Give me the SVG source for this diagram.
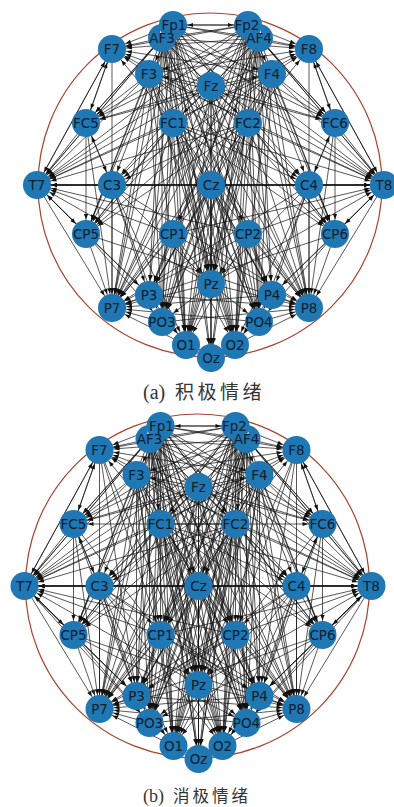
<svg xmlns="http://www.w3.org/2000/svg" width="394" height="807" viewBox="0 0 394 807">
<style>
.bg{fill:#ffffff}
.ring{fill:none;stroke:#a8432f;stroke-width:1.2}
.edges path{fill:none;stroke:#111;stroke-width:0.7;marker-end:url(#ah)}
.node circle{fill:#1f77b4}
.node text{font-family:"DejaVu Sans",sans-serif;font-size:13.5px;fill:#0f1d2d;text-anchor:middle}
.cap{font-family:"Liberation Serif","Noto Sans CJK SC",serif;fill:#333}
.cj{font-family:"Noto Sans CJK SC",sans-serif;fill:#333}
</style>
<defs>
<marker id="ah" markerUnits="userSpaceOnUse" markerWidth="8" markerHeight="8" refX="20" refY="0" orient="auto" overflow="visible"><path d="M0,-2.1L5.5,0L0,2.1z" fill="#111"/></marker>
<mask id="mL" maskUnits="userSpaceOnUse" x="0" y="0" width="394" height="400" maskContentUnits="userSpaceOnUse"><rect x="0" y="0" width="394" height="400" fill="#fff"/><rect x="160" y="15" width="28" height="18" fill="#000"/></mask>
<mask id="mR" maskUnits="userSpaceOnUse" x="0" y="0" width="394" height="400" maskContentUnits="userSpaceOnUse"><rect x="0" y="0" width="394" height="400" fill="#fff"/><rect x="233" y="15" width="28" height="18" fill="#000"/></mask>
<g id="edgesBase" class="edges">
<path d="M173 25L248 25"/><path d="M173 25L112 49"/><path d="M173 25L309 49"/><path d="M173 25L37 185"/><path d="M173 25L384 185"/><path d="M173 25L149 74"/><path d="M173 25L86 123"/><path d="M173 25L112 185"/><path d="M173 25L309 185"/><path d="M173 25L86 234"/><path d="M173 25L335 234"/><path d="M173 25L112 308"/><path d="M173 25L309 308"/><path d="M173 25L211 284"/><path d="M173 25L149 295"/><path d="M173 25L272 295"/><path d="M173 25L162 322"/><path d="M173 25L259 322"/><path d="M173 25L186 345"/><path d="M173 25L235 345"/><path d="M173 25L211 358"/><path d="M173 25L335 123"/><path d="M173 25L259 38"/>
<path d="M248 25L173 25"/><path d="M248 25L112 49"/><path d="M248 25L309 49"/><path d="M248 25L272 74"/><path d="M248 25L335 123"/><path d="M248 25L384 185"/><path d="M248 25L37 185"/><path d="M248 25L309 185"/><path d="M248 25L112 185"/><path d="M248 25L112 308"/><path d="M248 25L309 308"/><path d="M248 25L211 284"/><path d="M248 25L149 295"/><path d="M248 25L272 295"/><path d="M248 25L259 322"/><path d="M248 25L162 322"/><path d="M248 25L186 345"/><path d="M248 25L235 345"/><path d="M248 25L211 358"/><path d="M248 25L335 234"/><path d="M248 25L86 234"/><path d="M248 25L162 38"/><path d="M248 25L86 123"/>
<path d="M162 38L112 49"/><path d="M162 38L309 49"/><path d="M162 38L86 123"/><path d="M162 38L37 185"/><path d="M162 38L384 185"/><path d="M162 38L309 185"/><path d="M162 38L86 234"/><path d="M162 38L112 308"/><path d="M162 38L309 308"/><path d="M162 38L211 284"/><path d="M162 38L149 295"/><path d="M162 38L272 295"/><path d="M162 38L162 322"/><path d="M162 38L259 322"/><path d="M162 38L186 345"/><path d="M162 38L235 345"/><path d="M162 38L211 358"/><path d="M162 38L335 123"/><path d="M162 38L335 234"/><path d="M162 38L272 74"/><path d="M162 38L248 123"/><path d="M162 38L248 234"/>
<path d="M259 38L309 49"/><path d="M259 38L112 49"/><path d="M259 38L335 123"/><path d="M259 38L384 185"/><path d="M259 38L37 185"/><path d="M259 38L112 185"/><path d="M259 38L335 234"/><path d="M259 38L309 308"/><path d="M259 38L112 308"/><path d="M259 38L211 284"/><path d="M259 38L272 295"/><path d="M259 38L149 295"/><path d="M259 38L259 322"/><path d="M259 38L162 322"/><path d="M259 38L235 345"/><path d="M259 38L186 345"/><path d="M259 38L211 358"/><path d="M259 38L86 123"/><path d="M259 38L86 234"/><path d="M259 38L149 74"/><path d="M259 38L173 123"/><path d="M259 38L173 234"/>
<path d="M149 74L112 49"/><path d="M149 74L86 123"/><path d="M149 74L37 185"/><path d="M149 74L384 185"/><path d="M149 74L309 185"/><path d="M149 74L86 234"/><path d="M149 74L112 308"/><path d="M149 74L309 308"/><path d="M149 74L211 284"/><path d="M149 74L162 322"/><path d="M149 74L259 322"/><path d="M149 74L186 345"/><path d="M149 74L235 345"/><path d="M149 74L272 295"/><path d="M149 74L335 234"/><path d="M149 74L335 123"/><path d="M149 74L309 49"/>
<path d="M272 74L309 49"/><path d="M272 74L335 123"/><path d="M272 74L384 185"/><path d="M272 74L37 185"/><path d="M272 74L112 185"/><path d="M272 74L335 234"/><path d="M272 74L112 308"/><path d="M272 74L309 308"/><path d="M272 74L211 284"/><path d="M272 74L259 322"/><path d="M272 74L162 322"/><path d="M272 74L235 345"/><path d="M272 74L186 345"/><path d="M272 74L149 295"/><path d="M272 74L86 234"/><path d="M272 74L86 123"/><path d="M272 74L112 49"/>
<path d="M211 86L112 49"/><path d="M211 86L309 49"/><path d="M211 86L37 185"/><path d="M211 86L384 185"/><path d="M211 86L112 308"/><path d="M211 86L309 308"/><path d="M211 86L211 284"/><path d="M211 86L186 345"/><path d="M211 86L235 345"/><path d="M211 86L211 358"/><path d="M211 86L162 322"/><path d="M211 86L259 322"/><path d="M211 86L86 123"/><path d="M211 86L335 123"/><path d="M211 86L149 74"/><path d="M211 86L272 74"/>
<path d="M173 123L37 185"/><path d="M173 123L384 185"/><path d="M173 123L112 308"/><path d="M173 123L309 308"/><path d="M173 123L211 284"/><path d="M173 123L186 345"/><path d="M173 123L235 345"/><path d="M173 123L162 322"/><path d="M173 123L259 322"/><path d="M173 123L86 234"/><path d="M173 123L335 234"/><path d="M173 123L112 49"/><path d="M173 123L309 49"/><path d="M173 123L309 185"/><path d="M173 123L272 295"/>
<path d="M248 123L37 185"/><path d="M248 123L384 185"/><path d="M248 123L112 308"/><path d="M248 123L309 308"/><path d="M248 123L211 284"/><path d="M248 123L186 345"/><path d="M248 123L235 345"/><path d="M248 123L162 322"/><path d="M248 123L259 322"/><path d="M248 123L335 234"/><path d="M248 123L86 234"/><path d="M248 123L309 49"/><path d="M248 123L112 49"/><path d="M248 123L112 185"/><path d="M248 123L149 295"/>
<path d="M112 185L37 185"/><path d="M112 185L86 234"/><path d="M112 185L112 308"/><path d="M112 185L309 308"/><path d="M112 185L211 284"/><path d="M112 185L162 322"/><path d="M112 185L186 345"/><path d="M112 185L384 185"/><path d="M112 185L149 295"/><path d="M112 185L86 123"/>
<path d="M211 185L37 185"/><path d="M211 185L384 185"/><path d="M211 185L112 308"/><path d="M211 185L309 308"/><path d="M211 185L211 284"/><path d="M211 185L211 358"/><path d="M211 185L186 345"/><path d="M211 185L235 345"/><path d="M211 185L149 295"/><path d="M211 185L272 295"/><path d="M211 185L162 322"/><path d="M211 185L259 322"/>
<path d="M309 185L384 185"/><path d="M309 185L335 234"/><path d="M309 185L309 308"/><path d="M309 185L112 308"/><path d="M309 185L211 284"/><path d="M309 185L259 322"/><path d="M309 185L235 345"/><path d="M309 185L37 185"/><path d="M309 185L272 295"/><path d="M309 185L335 123"/>
<path d="M173 234L37 185"/><path d="M173 234L384 185"/><path d="M173 234L112 308"/><path d="M173 234L309 308"/><path d="M173 234L211 284"/><path d="M173 234L186 345"/><path d="M173 234L162 322"/><path d="M173 234L149 295"/><path d="M173 234L235 345"/>
<path d="M248 234L37 185"/><path d="M248 234L384 185"/><path d="M248 234L112 308"/><path d="M248 234L309 308"/><path d="M248 234L211 284"/><path d="M248 234L235 345"/><path d="M248 234L259 322"/><path d="M248 234L272 295"/><path d="M248 234L186 345"/>
<path d="M86 234L112 308"/><path d="M86 234L37 185"/><path d="M86 234L149 295"/><path d="M86 234L162 322"/><path d="M86 234L309 308"/>
<path d="M335 234L309 308"/><path d="M335 234L384 185"/><path d="M335 234L272 295"/><path d="M335 234L259 322"/><path d="M335 234L112 308"/>
<path d="M86 123L37 185"/><path d="M86 123L112 49"/><path d="M86 123L112 308"/><path d="M86 123L112 185"/><path d="M86 123L86 234"/>
<path d="M335 123L384 185"/><path d="M335 123L309 49"/><path d="M335 123L309 308"/><path d="M335 123L309 185"/><path d="M335 123L335 234"/>
<path d="M112 49L37 185"/><path d="M112 49L86 123"/><path d="M112 49L112 308"/>
<path d="M309 49L384 185"/><path d="M309 49L335 123"/><path d="M309 49L309 308"/>
<path d="M37 185L384 185"/><path d="M37 185L112 308"/><path d="M37 185L112 49"/><path d="M37 185L86 234"/>
<path d="M384 185L37 185"/><path d="M384 185L309 308"/><path d="M384 185L309 49"/><path d="M384 185L335 234"/>
<path d="M149 295L112 308"/><path d="M149 295L186 345"/><path d="M149 295L309 308"/><path d="M149 295L37 185"/>
<path d="M272 295L309 308"/><path d="M272 295L235 345"/><path d="M272 295L112 308"/><path d="M272 295L384 185"/>
<path d="M211 284L112 308"/><path d="M211 284L309 308"/><path d="M211 284L186 345"/><path d="M211 284L235 345"/><path d="M211 284L211 358"/><path d="M211 284L162 322"/><path d="M211 284L259 322"/><path d="M211 284L37 185"/><path d="M211 284L384 185"/>
<path d="M162 322L112 308"/><path d="M162 322L211 358"/><path d="M162 322L309 308"/>
<path d="M259 322L309 308"/><path d="M259 322L211 358"/><path d="M259 322L112 308"/>
<path d="M186 345L112 308"/><path d="M235 345L309 308"/>
</g>
</defs>
<rect class="bg" x="0" y="0" width="394" height="807"/>

<g id="graph-a">
<circle class="ring" cx="210" cy="185" r="172"/>
<g id="connectors-a"><use href="#edgesBase"/></g>
<g id="a-Fp1" class="node"><circle cx="173" cy="25" r="14"/><text x="174" y="29.5">Fp1</text></g>
<g id="a-AF3" class="node"><circle cx="162" cy="38" r="14" mask="url(#mL)"/><text x="162" y="42.5">AF3</text></g>
<g id="a-Fp2" class="node"><circle cx="248" cy="25" r="14"/><text x="247" y="29.5">Fp2</text></g>
<g id="a-AF4" class="node"><circle cx="259" cy="38" r="14" mask="url(#mR)"/><text x="259" y="42.5">AF4</text></g>
<g id="a-F7" class="node"><circle cx="112" cy="49" r="14"/><text x="112" y="53.5">F7</text></g>
<g id="a-F8" class="node"><circle cx="309" cy="49" r="14"/><text x="309" y="53.5">F8</text></g>
<g id="a-F3" class="node"><circle cx="149" cy="74" r="14"/><text x="149" y="78.5">F3</text></g>
<g id="a-F4" class="node"><circle cx="272" cy="74" r="14"/><text x="272" y="78.5">F4</text></g>
<g id="a-Fz" class="node"><circle cx="211" cy="86" r="14"/><text x="211" y="90.5">Fz</text></g>
<g id="a-FC5" class="node"><circle cx="86" cy="123" r="14"/><text x="86" y="127.5">FC5</text></g>
<g id="a-FC1" class="node"><circle cx="173" cy="123" r="14"/><text x="173" y="127.5">FC1</text></g>
<g id="a-FC2" class="node"><circle cx="248" cy="123" r="14"/><text x="248" y="127.5">FC2</text></g>
<g id="a-FC6" class="node"><circle cx="335" cy="123" r="14"/><text x="335" y="127.5">FC6</text></g>
<g id="a-T7" class="node"><circle cx="37" cy="185" r="14"/><text x="37" y="189.5">T7</text></g>
<g id="a-C3" class="node"><circle cx="112" cy="185" r="14"/><text x="112" y="189.5">C3</text></g>
<g id="a-Cz" class="node"><circle cx="211" cy="185" r="14"/><text x="211" y="189.5">Cz</text></g>
<g id="a-C4" class="node"><circle cx="309" cy="185" r="14"/><text x="309" y="189.5">C4</text></g>
<g id="a-T8" class="node"><circle cx="384" cy="185" r="14"/><text x="384" y="189.5">T8</text></g>
<g id="a-CP5" class="node"><circle cx="86" cy="234" r="14"/><text x="86" y="238.5">CP5</text></g>
<g id="a-CP1" class="node"><circle cx="173" cy="234" r="14"/><text x="173" y="238.5">CP1</text></g>
<g id="a-CP2" class="node"><circle cx="248" cy="234" r="14"/><text x="248" y="238.5">CP2</text></g>
<g id="a-CP6" class="node"><circle cx="335" cy="234" r="14"/><text x="335" y="238.5">CP6</text></g>
<g id="a-Pz" class="node"><circle cx="211" cy="284" r="14"/><text x="211" y="288.5">Pz</text></g>
<g id="a-P3" class="node"><circle cx="149" cy="295" r="14"/><text x="149" y="299.5">P3</text></g>
<g id="a-P4" class="node"><circle cx="272" cy="295" r="14"/><text x="272" y="299.5">P4</text></g>
<g id="a-P7" class="node"><circle cx="112" cy="308" r="14"/><text x="112" y="312.5">P7</text></g>
<g id="a-P8" class="node"><circle cx="309" cy="308" r="14"/><text x="309" y="312.5">P8</text></g>
<g id="a-PO3" class="node"><circle cx="162" cy="322" r="14"/><text x="162" y="326.5">PO3</text></g>
<g id="a-PO4" class="node"><circle cx="259" cy="322" r="14"/><text x="259" y="326.5">PO4</text></g>
<g id="a-O1" class="node"><circle cx="186" cy="345" r="14"/><text x="186" y="349.5">O1</text></g>
<g id="a-O2" class="node"><circle cx="235" cy="345" r="14"/><text x="235" y="349.5">O2</text></g>
<g id="a-Oz" class="node"><circle cx="211" cy="358" r="14"/><text x="211" y="362.5">Oz</text></g>
</g>
<text class="cap" x="143" y="399" font-size="20">(a)</text>
<text class="cj" x="175" y="399" font-size="19" letter-spacing="3.5">积极情绪</text>

<g id="graph-b" transform="translate(-12.5,401)">
<circle class="ring" cx="210" cy="185" r="172"/>
<g id="connectors-b" class="edges">
<use href="#edgesBase"/>
<path d="M149 74L211 185"/><path d="M272 74L211 185"/><path d="M149 74L173 234"/><path d="M272 74L248 234"/><path d="M211 86L173 234"/><path d="M211 86L248 234"/><path d="M211 86L112 185"/><path d="M211 86L309 185"/><path d="M162 38L211 185"/><path d="M259 38L211 185"/><path d="M173 25L173 234"/><path d="M248 25L248 234"/><path d="M173 25L248 234"/><path d="M248 25L173 234"/><path d="M173 123L335 123"/><path d="M248 123L86 123"/><path d="M86 123L149 295"/><path d="M335 123L272 295"/><path d="M112 185L272 295"/><path d="M309 185L149 295"/><path d="M86 234L259 322"/><path d="M335 234L162 322"/><path d="M37 185L149 295"/><path d="M384 185L272 295"/><path d="M37 185L162 322"/><path d="M384 185L259 322"/><path d="M112 49L149 295"/><path d="M309 49L272 295"/><path d="M112 49L173 234"/><path d="M309 49L248 234"/><path d="M112 49L211 284"/><path d="M309 49L211 284"/><path d="M162 38L173 123"/><path d="M259 38L248 123"/><path d="M173 25L248 123"/><path d="M248 25L173 123"/><path d="M173 123L248 234"/><path d="M248 123L173 234"/><path d="M173 123L211 358"/><path d="M248 123L211 358"/><path d="M173 234L272 295"/><path d="M248 234L149 295"/><path d="M86 123L173 234"/><path d="M335 123L248 234"/><path d="M112 185L235 345"/><path d="M309 185L186 345"/><path d="M149 74L149 295"/><path d="M272 74L272 295"/>
</g>
<g id="b-Fp1" class="node"><circle cx="173" cy="25" r="14"/><text x="174" y="29.5">Fp1</text></g>
<g id="b-AF3" class="node"><circle cx="162" cy="38" r="14" mask="url(#mL)"/><text x="162" y="42.5">AF3</text></g>
<g id="b-Fp2" class="node"><circle cx="248" cy="25" r="14"/><text x="247" y="29.5">Fp2</text></g>
<g id="b-AF4" class="node"><circle cx="259" cy="38" r="14" mask="url(#mR)"/><text x="259" y="42.5">AF4</text></g>
<g id="b-F7" class="node"><circle cx="112" cy="49" r="14"/><text x="112" y="53.5">F7</text></g>
<g id="b-F8" class="node"><circle cx="309" cy="49" r="14"/><text x="309" y="53.5">F8</text></g>
<g id="b-F3" class="node"><circle cx="149" cy="74" r="14"/><text x="149" y="78.5">F3</text></g>
<g id="b-F4" class="node"><circle cx="272" cy="74" r="14"/><text x="272" y="78.5">F4</text></g>
<g id="b-Fz" class="node"><circle cx="211" cy="86" r="14"/><text x="211" y="90.5">Fz</text></g>
<g id="b-FC5" class="node"><circle cx="86" cy="123" r="14"/><text x="86" y="127.5">FC5</text></g>
<g id="b-FC1" class="node"><circle cx="173" cy="123" r="14"/><text x="173" y="127.5">FC1</text></g>
<g id="b-FC2" class="node"><circle cx="248" cy="123" r="14"/><text x="248" y="127.5">FC2</text></g>
<g id="b-FC6" class="node"><circle cx="335" cy="123" r="14"/><text x="335" y="127.5">FC6</text></g>
<g id="b-T7" class="node"><circle cx="37" cy="185" r="14"/><text x="37" y="189.5">T7</text></g>
<g id="b-C3" class="node"><circle cx="112" cy="185" r="14"/><text x="112" y="189.5">C3</text></g>
<g id="b-Cz" class="node"><circle cx="211" cy="185" r="14"/><text x="211" y="189.5">Cz</text></g>
<g id="b-C4" class="node"><circle cx="309" cy="185" r="14"/><text x="309" y="189.5">C4</text></g>
<g id="b-T8" class="node"><circle cx="384" cy="185" r="14"/><text x="384" y="189.5">T8</text></g>
<g id="b-CP5" class="node"><circle cx="86" cy="234" r="14"/><text x="86" y="238.5">CP5</text></g>
<g id="b-CP1" class="node"><circle cx="173" cy="234" r="14"/><text x="173" y="238.5">CP1</text></g>
<g id="b-CP2" class="node"><circle cx="248" cy="234" r="14"/><text x="248" y="238.5">CP2</text></g>
<g id="b-CP6" class="node"><circle cx="335" cy="234" r="14"/><text x="335" y="238.5">CP6</text></g>
<g id="b-Pz" class="node"><circle cx="211" cy="284" r="14"/><text x="211" y="288.5">Pz</text></g>
<g id="b-P3" class="node"><circle cx="149" cy="295" r="14"/><text x="149" y="299.5">P3</text></g>
<g id="b-P4" class="node"><circle cx="272" cy="295" r="14"/><text x="272" y="299.5">P4</text></g>
<g id="b-P7" class="node"><circle cx="112" cy="308" r="14"/><text x="112" y="312.5">P7</text></g>
<g id="b-P8" class="node"><circle cx="309" cy="308" r="14"/><text x="309" y="312.5">P8</text></g>
<g id="b-PO3" class="node"><circle cx="162" cy="322" r="14"/><text x="162" y="326.5">PO3</text></g>
<g id="b-PO4" class="node"><circle cx="259" cy="322" r="14"/><text x="259" y="326.5">PO4</text></g>
<g id="b-O1" class="node"><circle cx="186" cy="345" r="14"/><text x="186" y="349.5">O1</text></g>
<g id="b-O2" class="node"><circle cx="235" cy="345" r="14"/><text x="235" y="349.5">O2</text></g>
<g id="b-Oz" class="node"><circle cx="211" cy="358" r="14"/><text x="211" y="362.5">Oz</text></g>
</g>
<text class="cap" x="143" y="802" font-size="18">(b)</text>
<text class="cj" x="173" y="802" font-size="16.5" letter-spacing="3">消极情绪</text>
</svg>
